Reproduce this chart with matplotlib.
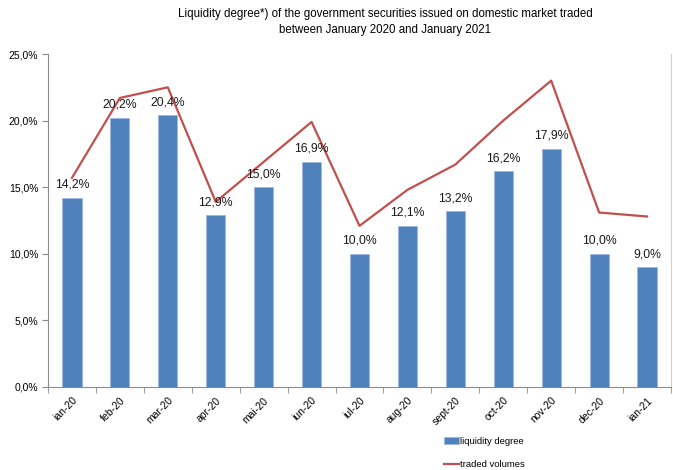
import matplotlib.pyplot as plt
import matplotlib.ticker as mticker
import numpy as np

plt.rcParams['font.family'] = ['Liberation Sans', 'DejaVu Sans']

# Lunile analizate
luni = ['ian-20', 'feb-20', 'mar-20', 'apr-20', 'mai-20', 'iun-20', 'iul-20',
        'aug-20', 'sept-20', 'oct-20', 'nov-20', 'dec-20', 'ian-21']
# Gradul de lichiditate (%)
grad_lichiditate = [14.2, 20.2, 20.4, 12.9, 15.0, 16.9, 10.0,
                    12.1, 13.2, 16.2, 17.9, 10.0, 9.0]
# Volume tranzactionate (aceeasi scala, %)
volume_tranz = [15.7, 21.7, 22.5, 13.9, 16.9, 19.9, 12.1,
                14.8, 16.7, 20.0, 23.0, 13.1, 12.8]

COL_BAR = '#4F81BD'
COL_LIN = '#C0504D'
COL_AX = '#8C8C8C'

fig = plt.figure(figsize=(6.73, 4.70), dpi=100)
ax = fig.add_axes([48/673, 1 - 387/470, (671 - 48)/673, (387 - 54)/470])

x = np.arange(len(luni))
bars = ax.bar(x, grad_lichiditate, width=0.4, color=COL_BAR,
              edgecolor='#9DB9DE', linewidth=0.6, label='liquidity degree', zorder=2)
linie, = ax.plot(x, volume_tranz, color=COL_LIN, linewidth=1.6,
                 label='traded volumes', zorder=3)

for xi, v in zip(x, grad_lichiditate):
    ax.annotate(f'{v:.1f}%'.replace('.', ','), (xi, v), xytext=(0, 5),
                textcoords='offset points', ha='center', va='bottom',
                fontsize=8.8, color='#1a1a1a', zorder=4)

ax.set_xlim(-0.5, len(luni) - 0.5)
ax.set_ylim(0, 25)
ax.yaxis.set_major_locator(mticker.MultipleLocator(5))
ax.yaxis.set_major_formatter(mticker.FuncFormatter(lambda v, p: f'{v:.1f}%'.replace('.', ',')))

ax.set_xticks(x)
ax.set_xticklabels(luni, rotation=45, ha='right', rotation_mode='anchor', fontsize=7.5)
ax.tick_params(axis='x', length=0, pad=6)
ax.set_xticks(np.arange(-0.5, len(luni), 1), minor=True)
ax.tick_params(axis='x', which='minor', length=4, color=COL_AX, direction='out')
ax.tick_params(axis='y', labelsize=7.5, length=4, color=COL_AX, pad=3)

for s in ['left', 'bottom']:
    ax.spines[s].set_color(COL_AX)
ax.spines['top'].set_visible(False)
ax.spines['right'].set_color('#D0D0D0')

fig.text(385/673, 1 - 22/470,
         'Liquidity degree*) of the government securities issued on domestic market traded\n'
         'between January 2020 and January 2021',
         ha='center', va='center', fontsize=8.3, linespacing=1.35)

fig.legend(handles=[bars, linie], loc='upper left',
           bbox_to_anchor=(440/673, 1 - 433/470), frameon=False,
           fontsize=6.8, handlelength=1.6, handletextpad=0.15, labelspacing=1.5,
           borderaxespad=0)

fig.savefig('out.png', dpi=100)
